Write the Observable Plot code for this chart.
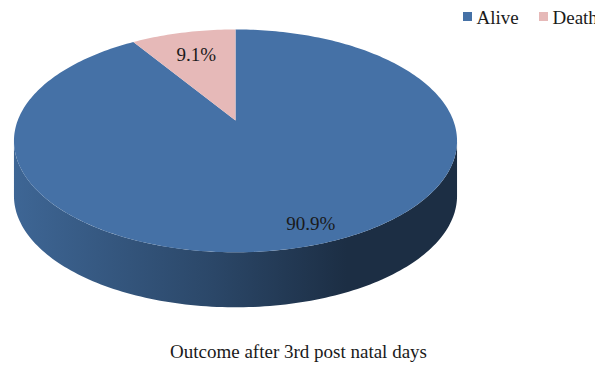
<!DOCTYPE html>
<html><head><meta charset="utf-8">
<script src="https://cdn.jsdelivr.net/npm/d3@7"></script>
<script src="https://cdn.jsdelivr.net/npm/@observablehq/plot@0.6"></script>
<style>body{margin:0;background:#fff;} svg{display:block;background:#fff}</style>
</head><body><div id="chart"></div>
<script>
const categories = ["Alive", "Death"];
const values = [90.9, 9.1];
const labels = ["90.9%", "9.1%"];
const colors = ["#4571a6", "#e6b9b8"];
const caption = "Outcome after 3rd post natal days";

const W = 595, H = 370;
// perspective pie geometry
const cx = 235, cy = 120, sx = 217.8, sy = 107.7, k = 0.183, depth = 55;
function proj(theta, r = 1, dz = 0) {
  const u = r * Math.sin(theta), v = r * Math.cos(theta), w = 1 + k * v;
  return {x: cx + sx * u / w, y: cy - sy * v / w + dz};
}
const arcs = d3.pie().sort(null)(values);
function rim(a0, a1, dz = 0) {
  const n = Math.max(4, Math.ceil(Math.abs(a1 - a0) / 0.02)), pts = [];
  for (let i = 0; i <= n; i++) pts.push(proj(a0 + (a1 - a0) * i / n, 1, dz));
  return pts;
}
const slices = arcs.map((a, i) => ({
  key: categories[i], color: colors[i],
  pts: [proj(0, 0), ...rim(a.startAngle, a.endAngle), proj(0, 0)]
}));
// visible side (front half between the extreme left/right points)
const thR = Math.acos(-k), thL = 2 * Math.PI - thR;
const sides = [];
arcs.forEach((a, i) => {
  const s = Math.max(a.startAngle, thR), e = Math.min(a.endAngle, thL);
  if (e > s) sides.push({i, pts: [...rim(s, e), ...rim(e, s, depth)]});
});
const shadowPts = rim(thR, thL, depth).map(p => ({x: p.x + 1, y: p.y + 2}));

// label positions
const midAngle = a => (a.startAngle + a.endAngle) / 2;
const labAlive = {...proj(midAngle(arcs[0]), 0.85), t: labels[0]};
const labDeath = {...proj(midAngle(arcs[1]), 0.72), t: labels[1]};

// legend layout
const legX0 = 463, legStep = 76;
const legend = categories.map((c, i) => ({c, color: colors[i], x: legX0 + i * legStep}));

const marks = [
  Plot.line(shadowPts, {x: "x", y: "y", stroke: "#8a8a8a", strokeWidth: 3, strokeOpacity: 0.55, ariaLabel: "shadow"}),
  ...sides.map(s => Plot.line(s.pts, {x: "x", y: "y", fill: `url(#sideGrad${s.i})`, stroke: "none"})),
  ...slices.map(s => Plot.line(s.pts, {x: "x", y: "y", fill: s.color, stroke: "none"})),
  Plot.text([labAlive, labDeath], {x: d => d.x + (d.t === labels[0] ? 14 : 0), y: "y", text: "t", fontSize: 19, fill: "#1a1a1a", textAnchor: "middle"}),
  Plot.rect(legend, {x1: "x", x2: d => d.x + 9, y1: 12, y2: 21, fill: "color"}),
  Plot.text(legend, {x: d => d.x + 13, y: 17, text: "c", fontSize: 19, fill: "#1a1a1a", textAnchor: "start"}),
  Plot.text([caption], {x: 298, y: 351, text: d => d, fontSize: 19, fill: "#1a1a1a", textAnchor: "middle"})
];

const chart = Plot.plot({
  width: W, height: H, margin: 0,
  x: {type: "identity", axis: null},
  y: {type: "identity", axis: null},
  color: {type: "identity"},
  style: {fontFamily: "'Liberation Serif', 'Times New Roman', serif", background: "#fff"},
  marks
});

const svg = d3.select(chart);
const defs = svg.insert("defs", ":first-child");
sides.forEach(s => {
  const c = colors[s.i];
  const g = defs.append("linearGradient").attr("id", "sideGrad" + s.i)
    .attr("gradientUnits", "userSpaceOnUse").attr("x1", cx - sx * 1.02).attr("x2", cx + sx * 1.02).attr("y1", 0).attr("y2", 0);
  [[0, 0.3], [0.45, 1.3], [0.75, 2.5], [1, 2.5]].forEach(([o, d]) =>
    g.append("stop").attr("offset", o).attr("stop-color", d3.color(c).darker(d).formatHex()));
});
defs.append("filter").attr("id", "blur").attr("x", "-5%").attr("y", "-5%").attr("width", "110%").attr("height", "120%")
  .append("feGaussianBlur").attr("stdDeviation", 1.5);
svg.select('g[aria-label="shadow"]').attr("filter", "url(#blur)");

document.getElementById("chart").appendChild(chart);
</script>
</body></html>
